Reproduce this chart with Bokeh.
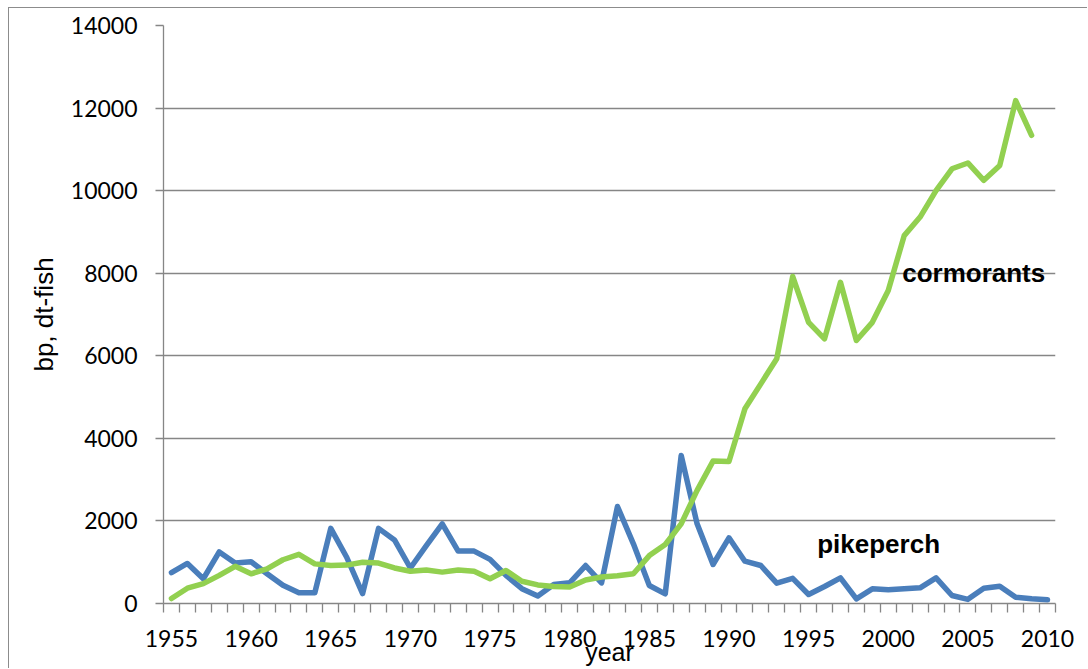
from bokeh.plotting import figure
from bokeh.models import FixedTicker, Label, Range1d, InlineStyleSheet
from bokeh.embed import file_html
from bokeh.resources import INLINE

years = list(range(1955, 2011))
pikeperch = [750, 970, 600, 1250, 980, 1010, 720, 440, 260, 260,
             1820, 1120, 240, 1820, 1540, 860, 1400, 1930, 1270, 1270,
             1070, 680, 360, 180, 460, 500, 920, 500, 2350, 1445,
             436, 234, 3585, 1929, 945, 1591, 1025, 920, 492, 610,
             218, 412, 622, 113, 355, 331, 355, 380, 622, 194,
             100, 370, 420, 153, 113, 90]
cormorant_years = list(range(1955, 2010))
cormorants = [120, 370, 480, 680, 900, 720, 840, 1060, 1190, 960,
              920, 930, 1000, 980, 860, 780, 810, 760, 810, 780,
              600, 800, 540, 450, 410, 400, 570, 640, 670, 720,
              1160, 1430, 1930, 2740, 3450, 3440, 4715, 5320, 5930, 7920,
              6810, 6410, 7780, 6370, 6810, 7580, 8910, 9360, 10000, 10530,
              10670, 10250, 10610, 12180, 11340]
y_ticks = [0, 2000, 4000, 6000, 8000, 10000, 12000, 14000]
x_label_years = [1955, 1960, 1965, 1970, 1975, 1980, 1985, 1990, 1995, 2000, 2005, 2010]
x_boundaries = [y - 0.5 for y in years] + [2010.5]

GRID = "#868686"
TICK_FONT = "Lato"

p = figure(width=1079, height=661, output_backend="svg", toolbar_location=None,
           x_range=Range1d(1954.5, 2010.5), y_range=Range1d(0, 14000),
           min_border_left=154, min_border_right=33, min_border_top=17, min_border_bottom=66)
p.stylesheets = [InlineStyleSheet(css=":host { margin-left: 8px; margin-top: 7px; "
                                      "border-left: 1px solid #8c8c8c; border-top: 1px solid #8c8c8c; }")]
p.outline_line_color = None
p.background_fill_color = "white"
p.border_fill_color = "white"

p.xgrid.visible = False
p.ygrid.ticker = FixedTicker(ticks=y_ticks)
p.ygrid.grid_line_color = GRID
p.ygrid.grid_line_width = 1.3

xa = p.xaxis[0]
xa.ticker = FixedTicker(ticks=x_label_years, minor_ticks=x_boundaries)
xa.axis_line_color = GRID
xa.axis_line_width = 1.3
xa.major_tick_out = 0
xa.major_tick_in = 0
xa.minor_tick_out = 9
xa.minor_tick_in = 0
xa.minor_tick_line_color = GRID
xa.minor_tick_line_width = 1.3
xa.major_label_text_font = TICK_FONT
xa.major_label_text_font_size = "23px"
xa.major_label_text_color = "black"
xa.major_label_standoff = 17
xa.axis_label = "year"
xa.axis_label_text_font = "Liberation Sans"
xa.axis_label_text_font_style = "normal"
xa.axis_label_text_font_size = "25px"
xa.axis_label_text_color = "black"
xa.axis_label_standoff = -12

ya = p.yaxis[0]
ya.ticker = FixedTicker(ticks=y_ticks)
ya.axis_line_color = GRID
ya.axis_line_width = 1.3
ya.major_tick_out = 8
ya.major_tick_in = 0
ya.major_tick_line_color = GRID
ya.major_tick_line_width = 1.3
ya.minor_tick_out = 0
ya.minor_tick_in = 0
ya.major_label_text_font = TICK_FONT
ya.major_label_text_font_size = "23px"
ya.major_label_text_color = "black"
ya.major_label_standoff = 18
ya.axis_label = "bp, dt-fish"
ya.axis_label_text_font = "Liberation Sans"
ya.axis_label_text_font_style = "normal"
ya.axis_label_text_font_size = "26px"
ya.axis_label_text_color = "black"
ya.axis_label_standoff = 9

p.line(years, pikeperch, line_color="#4a7ebb", line_width=5.5, line_join="round", line_cap="round")
p.line(cormorant_years, cormorants, line_color="#92d050", line_width=5.5, line_join="round", line_cap="round")

def yv(pix):
    return (603 - pix) * 14000 / 578

def xv(pix):
    return 1954.5 + (pix - 163) * 56 / (1055 - 163)

p.add_layout(Label(x=xv(901.7), y=yv(272), text="cormorants", text_font="Liberation Sans",
                   text_font_style="bold", text_font_size="26px", text_color="black",
                   text_align="left", text_baseline="alphabetic"))
p.add_layout(Label(x=xv(816.7), y=yv(543), text="pikeperch", text_font="Liberation Sans",
                   text_font_style="bold", text_font_size="26px", text_color="black",
                   text_align="left", text_baseline="alphabetic"))

open("out.html", "w").write(file_html(p, INLINE))
